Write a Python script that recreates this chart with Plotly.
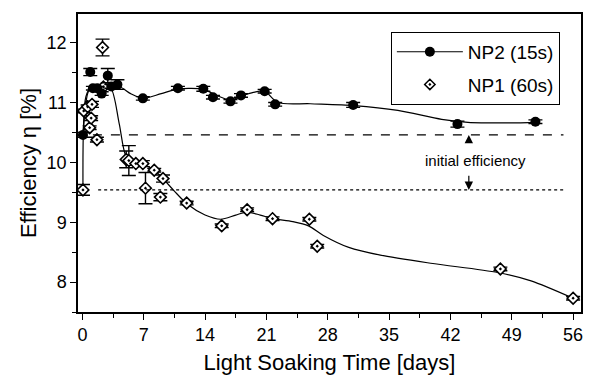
import plotly.graph_objects as go

# ---- data ----
np2_day = [0.07, 0.9, 1.2, 1.7, 2.2, 2.9, 3.3, 4.0, 6.9, 10.9, 13.8, 14.9, 16.9, 18.1, 20.8, 22.0, 30.9, 42.8, 51.7]
np2_eff = [10.46, 11.51, 11.24, 11.24, 11.15, 11.45, 11.27, 11.30, 11.07, 11.24, 11.23, 11.09, 11.02, 11.12, 11.19, 10.97, 10.96, 10.64, 10.68]
np2_err = [0.04, 0.06, 0.03, 0.03, 0.03, 0.12, 0.03, 0.08, 0.03, 0.03, 0.04, 0.03, 0.03, 0.03, 0.03, 0.03, 0.04, 0.05, 0.03]

np1_day = [0.07, 0.15, 0.6, 0.83, 1.0, 1.1, 1.66, 2.3, 2.4, 5.0, 5.3, 6.1, 6.9, 7.2, 8.2, 8.9, 9.2, 11.9, 15.9, 18.8, 21.7, 25.9, 26.8, 47.7, 56.0]
np1_eff = [9.54, 10.86, 10.93, 10.58, 10.74, 10.97, 10.38, 11.92, 11.26, 10.05, 10.03, 9.98, 9.98, 9.57, 9.87, 9.42, 9.73, 9.32, 8.94, 9.21, 9.06, 9.05, 8.60, 8.22, 7.73]
np1_err = [0.09, 0.03, 0.03, 0.03, 0.04, 0.05, 0.04, 0.14, 0.03, 0.14, 0.25, 0.03, 0.05, 0.26, 0.03, 0.06, 0.06, 0.03, 0.03, 0.03, 0.03, 0.03, 0.03, 0.03, 0.03]

# smoothed guide curves
np2_fit_day = [0.07, 0.6, 1.0, 2.0, 3.0, 4.3, 5.5, 7.0, 9.0, 11.0, 13.8, 15.3, 16.9, 18.2, 19.5, 20.8, 22.3, 26.0, 31.0, 36.0, 41.0, 44.0, 48.0, 52.0]
np2_fit_eff = [10.46, 11.15, 11.25, 11.25, 11.25, 11.26, 11.15, 11.07, 11.15, 11.23, 11.22, 11.12, 11.04, 11.11, 11.17, 11.19, 11.00, 10.98, 10.95, 10.87, 10.72, 10.67, 10.66, 10.67]

np1_fit_day = [0.07, 0.4, 1.0, 2.0, 3.2, 4.2, 5.0, 6.0, 7.0, 8.2, 9.2, 10.5, 12.0, 14.0, 15.8, 17.5, 18.8, 20.3, 21.7, 24.0, 25.8, 27.5, 30.4, 34.0, 40.0, 47.4, 51.2, 56.0]
np1_fit_eff = [9.54, 11.1, 11.25, 11.25, 11.25, 10.65, 10.1, 10.0, 9.96, 9.87, 9.73, 9.52, 9.3, 9.12, 9.05, 9.12, 9.17, 9.12, 9.06, 9.01, 8.94, 8.78, 8.58, 8.45, 8.31, 8.16, 8.02, 7.73]

initial_np2 = 10.46
initial_np1 = 9.54

x_ticks = [0, 7, 14, 21, 28, 35, 42, 49, 56]
y_ticks = [8, 9, 10, 11, 12]

FONT = "Liberation Sans, Arial, sans-serif"

fig = go.Figure()

# guide lines
fig.add_trace(go.Scatter(x=np2_fit_day, y=np2_fit_eff, mode="lines",
                         line=dict(color="black", width=1.2, shape="spline", smoothing=0.8),
                         showlegend=False, hoverinfo="skip"))
fig.add_trace(go.Scatter(x=np1_fit_day, y=np1_fit_eff, mode="lines",
                         line=dict(color="black", width=1.2, shape="spline", smoothing=0.8),
                         showlegend=False, hoverinfo="skip"))

# data points
fig.add_trace(go.Scatter(x=np1_day, y=np1_eff, mode="markers",
                         marker=dict(symbol="diamond-dot", size=9, color="white",
                                     line=dict(color="black", width=1.6)),
                         error_y=dict(type="data", array=np1_err, color="black", thickness=1.4, width=7),
                         showlegend=False))
fig.add_trace(go.Scatter(x=np2_day, y=np2_eff, mode="markers",
                         marker=dict(symbol="circle", size=10, color="black"),
                         error_y=dict(type="data", array=np2_err, color="black", thickness=1.4, width=7),
                         showlegend=False))

# legend-only entries
fig.add_trace(go.Scatter(x=[None], y=[None], mode="lines+markers", name="NP2 (15s)",
                         legendgroup="a",
                         line=dict(color="black", width=1.2),
                         marker=dict(symbol="circle", size=10, color="black")))
fig.add_trace(go.Scatter(x=[None], y=[None], mode="markers", name="NP1 (60s)",
                         legendgroup="b",
                         marker=dict(symbol="diamond-dot", size=8, color="white",
                                     line=dict(color="black", width=1.5))))

# initial efficiency reference lines
fig.add_shape(type="line", x0=1.2, x1=54.9, y0=initial_np2, y1=initial_np2,
              line=dict(color="black", width=1.3, dash="dash"))
fig.add_shape(type="line", x0=1.8, x1=54.9, y0=initial_np1, y1=initial_np1,
              line=dict(color="black", width=1.3, dash="dot"))

fig.add_annotation(x=44.1, y=initial_np2, ax=44.1, ay=10.31, xref="x", yref="y",
                   axref="x", ayref="y", text="", showarrow=True,
                   arrowhead=2, arrowsize=1.4, arrowwidth=1.2, arrowcolor="black")
fig.add_annotation(x=44.1, y=initial_np1, ax=44.1, ay=9.80, xref="x", yref="y",
                   axref="x", ayref="y", text="", showarrow=True,
                   arrowhead=2, arrowsize=1.4, arrowwidth=1.2, arrowcolor="black")
fig.add_annotation(x=44.9, y=10.03, text="initial efficiency", showarrow=False,
                   font=dict(family=FONT, size=15, color="black"))

axis_common = dict(showline=True, linecolor="black", linewidth=1.5, mirror=True,
                   ticks="outside", ticklen=6, tickwidth=1.3, tickcolor="black",
                   showgrid=False, zeroline=False,
                   tickfont=dict(family=FONT, size=18, color="black"))

fig.update_xaxes(range=[-0.5, 56.9], tickvals=x_ticks,
                 minor=dict(dtick=3.5, tick0=0, ticks="outside", ticklen=4, tickcolor="black"),
                 title=dict(text="Light Soaking Time [days]",
                            font=dict(family=FONT, size=22, color="black"), standoff=10),
                 **axis_common)
fig.update_yaxes(range=[7.5, 12.48], tickvals=y_ticks,
                 minor=dict(dtick=0.5, tick0=0, ticks="outside", ticklen=4, tickcolor="black"),
                 title=dict(text="Efficiency η [%]",
                            font=dict(family=FONT, size=22, color="black"), standoff=4),
                 **axis_common)

fig.update_layout(
    width=594, height=382,
    margin=dict(l=78, r=11, t=14, b=65),
    paper_bgcolor="white", plot_bgcolor="white",
    font=dict(family=FONT, color="black"),
    legend=dict(x=0.622, y=0.94, xanchor="left", yanchor="top",
                bordercolor="black", borderwidth=1, bgcolor="white",
                font=dict(family=FONT, size=19, color="black"),
                itemwidth=66, tracegroupgap=5),
)

fig.write_html("out.html")
